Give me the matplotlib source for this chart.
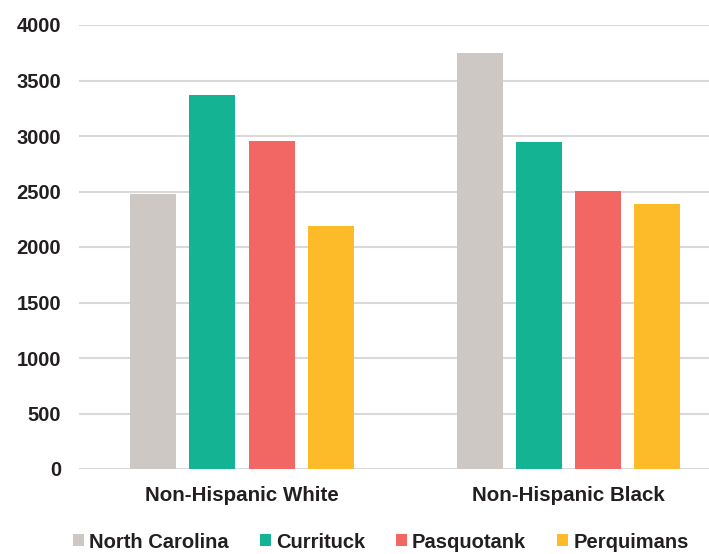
import matplotlib
matplotlib.use("Agg")
import matplotlib.pyplot as plt
from matplotlib.patches import Patch
import numpy as np

categories = ["Non-Hispanic White", "Non-Hispanic Black"]
series_names = ["North Carolina", "Currituck", "Pasquotank", "Perquimans"]
north_carolina = [2476, 3746]
currituck = [3371, 2946]
pasquotank = [2952, 2509]
perquimans = [2186, 2383]
yticks = [0, 500, 1000, 1500, 2000, 2500, 3000, 3500, 4000]

colors = ["#CDC8C3", "#13B393", "#F26663", "#FDBB2A"]
series = [north_carolina, currituck, pasquotank, perquimans]

plt.rcParams["font.family"] = ["Liberation Sans", "DejaVu Sans"]
plt.rcParams["font.weight"] = "bold"

W, H = 709, 554
fig = plt.figure(figsize=(W / 100, H / 100), dpi=100)
left, right, top, bottom = 79, 709, 25, 469
ax = fig.add_axes([left / W, 1 - bottom / H, (right - left) / W, (bottom - top) / H])

x = np.arange(len(categories))
step = 0.181
width = 0.141
for i, (vals, c) in enumerate(zip(series, colors)):
    ax.bar(x + (i - 1.5) * step, vals, width=width, color=c, zorder=3)

ax.set_ylim(0, 4000)
ax.set_xlim(-0.499, 1.430)
ax.set_yticks(yticks)
ax.set_yticklabels([str(v) for v in yticks])
ax.grid(axis="y", color="#D9D9D9", linewidth=1.5, zorder=0)
for s in ax.spines.values():
    s.set_visible(False)
ax.tick_params(axis="both", length=0, labelsize=14.5, labelcolor="#231F20")
ax.tick_params(axis="y", pad=13)
ax.tick_params(axis="x", pad=12)
ax.set_xticks(x)
ax.set_xticklabels(categories, fontweight="bold", fontsize=14.8)

handles = [Patch(facecolor=c) for c in colors]
fig.legend(handles, series_names, loc="center", bbox_to_anchor=(0.537, 1 - 542 / H),
           ncol=4, frameon=False, fontsize=14.5, handlelength=0.55, handleheight=0.55,
           handletextpad=0.25, columnspacing=1.55, labelcolor="#231F20")

fig.savefig("out.png", dpi=100)
